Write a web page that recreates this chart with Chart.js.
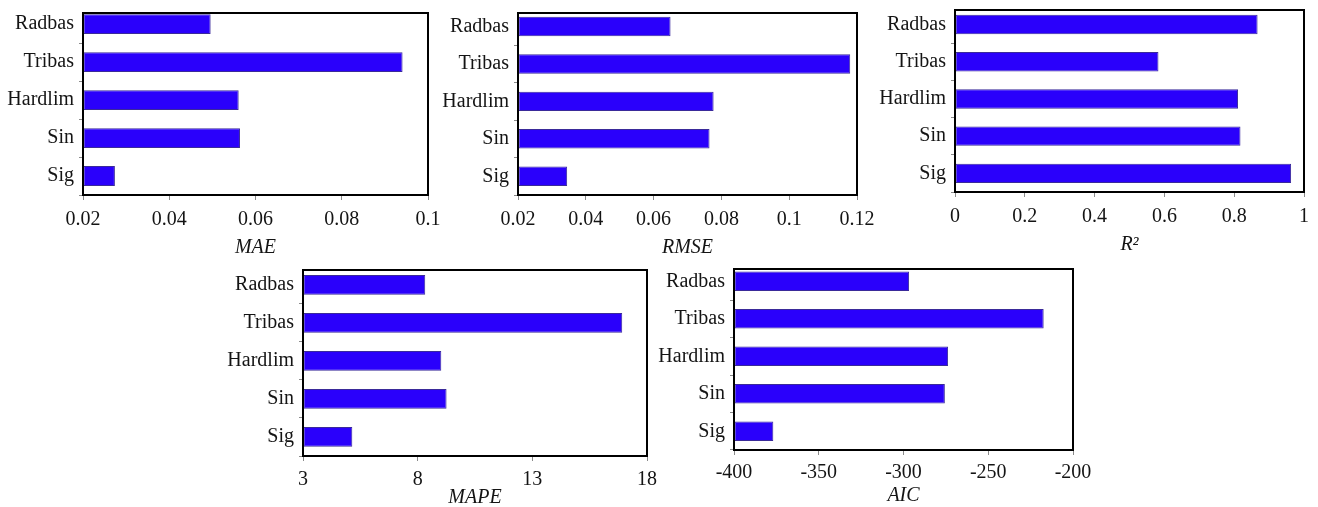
<!DOCTYPE html>
<html><head><meta charset="utf-8">
<script src="https://cdn.jsdelivr.net/npm/chart.js@4.4.1/dist/chart.umd.min.js"></script>
<style>
html,body{margin:0;padding:0;background:#fff;width:1318px;height:507px;overflow:hidden;position:relative}
canvas{position:absolute}
</style></head><body>
<script>
const categories = ['Radbas', 'Tribas', 'Hardlim', 'Sin', 'Sig'];

const maeValues  = [0.0496, 0.0941, 0.0561, 0.0564, 0.0274];
const rmseValues = [0.0650, 0.1180, 0.0777, 0.0765, 0.0345];
const r2Values   = [0.867, 0.583, 0.811, 0.818, 0.963];
const mapeValues = [8.33, 16.92, 9.03, 9.26, 5.15];
const aicValues  = [-296.7, -217.3, -273.7, -275.6, -376.8];

const maeTicks  = [0.02, 0.04, 0.06, 0.08, 0.1];
const rmseTicks = [0.02, 0.04, 0.06, 0.08, 0.1, 0.12];
const r2Ticks   = [0, 0.2, 0.4, 0.6, 0.8, 1];
const mapeTicks = [3, 8, 13, 18];
const aicTicks  = [-400, -350, -300, -250, -200];

const panels = [
  {title: 'MAE',  values: maeValues,  ticks: maeTicks,  box: [83, 13, 428, 195],  yMin: 0.71, hx: 65, tickPad: 8},
  {title: 'RMSE', values: rmseValues, ticks: rmseTicks, box: [518, 13, 857, 195], yMin: 0.64, hx: 65, tickPad: 8},
  {title: 'R²',   values: r2Values,   ticks: r2Ticks,   box: [955, 10, 1304, 192], yMin: 0.61, hx: 65, tickPad: 8},
  {title: 'MAPE', values: mapeValues, ticks: mapeTicks, box: [303, 270, 647, 456], yMin: 0.61, hx: 54, tickPad: 7},
  {title: 'AIC',  values: aicValues,  ticks: aicTicks,  box: [734, 269, 1073, 450], yMin: 0.67, hx: 58, tickPad: 6}
];

const FONT = "'Liberation Serif', 'Times New Roman', serif";
const TEXT = '#141414';
const WY = 80, PAD_TOP = 26, PAD_R = 26;

Chart.defaults.font.family = FONT;
Chart.defaults.font.size = 20;
Chart.defaults.color = TEXT;

const framePlugin = {
  id: 'frame',
  afterDatasetsDraw(chart) {
    const ca = chart.chartArea, ctx = chart.ctx;
    ctx.save();
    ctx.strokeStyle = '#000';
    ctx.lineWidth = 2;
    ctx.strokeRect(ca.left, ca.top, ca.right - ca.left, ca.bottom - ca.top);
    ctx.restore();
  }
};

panels.forEach(p => {
  const [L, T, R, B] = p.box;
  const cv = document.createElement('canvas');
  const w = (R - L) + WY + PAD_R, h = (B - T) + PAD_TOP + p.hx;
  cv.width = w; cv.height = h;
  cv.style.left = (L - WY) + 'px';
  cv.style.top = (T - PAD_TOP) + 'px';
  cv.style.width = w + 'px'; cv.style.height = h + 'px';
  document.body.appendChild(cv);

  const xmin = p.ticks[0], xmax = p.ticks[p.ticks.length - 1];
  new Chart(cv.getContext('2d'), {
    type: 'bar',
    data: {
      datasets: [{
        data: p.values.map((v, i) => ({x: v, y: i + 1})),
        base: xmin,
        backgroundColor: '#2a00fb',
        borderColor: '#3a2a9a',
        borderWidth: 1,
        borderSkipped: false,
        categoryPercentage: 1,
        barPercentage: 0.52
      }]
    },
    options: {
      indexAxis: 'y',
      responsive: false,
      animation: false,
      devicePixelRatio: 1,
      layout: {padding: {top: PAD_TOP, right: PAD_R, left: 0, bottom: 0}},
      plugins: {legend: {display: false}, tooltip: {enabled: false}},
      scales: {
        y: {
          type: 'linear',
          reverse: true,
          offset: false,
          min: p.yMin,
          max: categories.length + 0.5,
          afterBuildTicks: s => { s.ticks = categories.map((c, i) => ({value: i + 1})); },
          afterFit: s => { s.width = WY; },
          ticks: {
            autoSkip: false,
            padding: 5,
            color: TEXT,
            font: {family: FONT, size: 20},
            callback: v => categories[Math.round(v) - 1]
          },
          grid: {offset: true, drawOnChartArea: false, drawTicks: true, tickLength: 4, tickColor: '#8a8a8a', lineWidth: 1},
          border: {display: false}
        },
        x: {
          type: 'linear',
          min: xmin,
          max: xmax,
          beginAtZero: false,
          afterBuildTicks: s => { s.ticks = p.ticks.map(v => ({value: v})); },
          afterFit: s => { s.height = p.hx; },
          ticks: {
            autoSkip: false,
            maxRotation: 0,
            padding: p.tickPad,
            color: TEXT,
            font: {family: FONT, size: 20},
            callback: v => String(+v.toFixed(6))
          },
          grid: {drawOnChartArea: false, drawTicks: true, tickLength: 5, tickColor: '#8a8a8a', lineWidth: 1},
          border: {display: false},
          title: {
            display: true,
            text: p.title,
            color: TEXT,
            padding: 0,
            font: {family: FONT, size: 20, style: 'italic'}
          }
        }
      }
    },
    plugins: [framePlugin]
  });
});
</script>
</body></html>
